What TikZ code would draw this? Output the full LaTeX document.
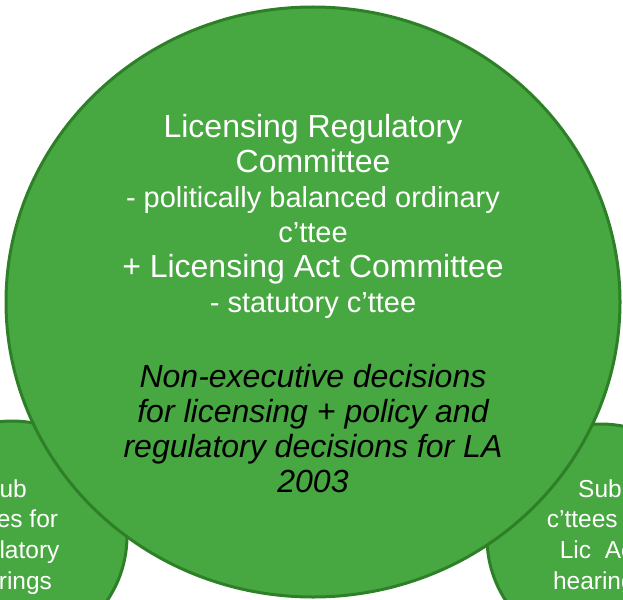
\documentclass[tikz,border=0pt]{standalone}
\usepackage{fontspec}
\setmainfont{Liberation Sans}
\usetikzlibrary{shapes.geometric}
\definecolor{ctteefill}{RGB}{71,167,64}
\definecolor{ctteeline}{RGB}{46,128,40}
\begin{document}
\begin{tikzpicture}[x=1pt,y=-1pt,
        blob/.style={ellipse,fill=ctteefill,draw=ctteeline,line width=3pt,inner sep=0pt},
        subtext/.style={text=white,align=center,font=\fontsize{24.5}{30.7}\selectfont},
        bigtext/.style={text=white,align=center,font=\fontsize{32}{35}\selectfont},
        notetext/.style={align=center,font=\fontsize{32}{35}\selectfont\itshape}]
        \useasboundingbox (0,0) rectangle (623,599);
        \clip (0,0) rectangle (623,599);

        % Sub c'ttees
        \node[blob,minimum width=230pt,minimum height=230pt] (subreg) at (12,536) {};
        \node[blob,minimum width=228pt,minimum height=228pt] (sublic) at (601,538) {};
        \node[subtext] (subregtext) at (5,537) {Sub\\c’ttees for\\regulatory\\hearings};
        \node[subtext] (sublictext) at (600,537) {Sub\\c’ttees for\\Lic\ \ Act\\hearings};

        % Committee
        \node[blob,minimum width=614pt,minimum height=590pt] (lrc) at (313,302) {};
        \node[bigtext] (lrctitle) at (313,216) {Licensing Regulatory\\Committee\\
            {\fontsize{29}{35}\selectfont - politically balanced ordinary}\\
            {\fontsize{29}{35}\selectfont c’ttee}\\
            + Licensing Act Committee\\
            {\fontsize{29}{35}\selectfont - statutory c’ttee}};
        \node[notetext] (lrcnote) at (313,429) {Non-executive decisions\\
            for licensing + policy and\\regulatory decisions for LA\\2003};
    \end{tikzpicture}
\end{document}
